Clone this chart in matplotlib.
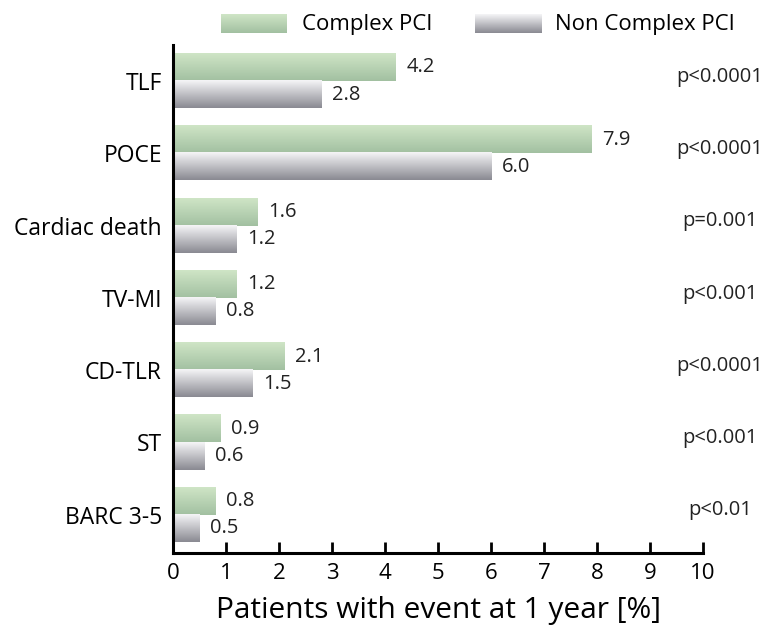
import numpy as np
import matplotlib
matplotlib.use('Agg')
import matplotlib.pyplot as plt
from matplotlib.colors import LinearSegmentedColormap

# data
categories = ['TLF', 'POCE', 'Cardiac death', 'TV-MI', 'CD-TLR', 'ST', 'BARC 3-5']
complex_pci = [4.2, 7.9, 1.6, 1.2, 2.1, 0.9, 0.8]
non_complex_pci = [2.8, 6.0, 1.2, 0.8, 1.5, 0.6, 0.5]
p_values = ['p<0.0001', 'p<0.0001', 'p=0.001', 'p<0.001', 'p<0.0001', 'p<0.001', 'p<0.01']

plt.rcParams['font.family'] = ['Open Sans', 'DejaVu Sans']

green_cmap = LinearSegmentedColormap.from_list('g', ['#cfe5c6', '#a2c0a1'])
gray_cmap = LinearSegmentedColormap.from_list('k', ['#f5f5f7', '#8a8a92'])
grad = np.linspace(0, 1, 64).reshape(-1, 1)

fig = plt.figure(figsize=(7.76, 6.32), dpi=100)
ax = fig.add_axes([0.223, 0.125, 0.683, 0.804])

y = np.arange(len(categories))
h = 0.375

bars_c = ax.barh(y - h / 2, complex_pci, height=h, color='none')
bars_n = ax.barh(y + h / 2, non_complex_pci, height=h, color='none')

# gradient fill for each bar
for bars, cmap in [(bars_c, green_cmap), (bars_n, gray_cmap)]:
    for b in bars:
        x0, y0 = b.get_x(), b.get_y()
        ax.imshow(grad, cmap=cmap, aspect='auto', origin='upper',
                  extent=(x0, x0 + b.get_width(), y0 + b.get_height(), y0),
                  zorder=2)

# value labels
for i in range(len(categories)):
    ax.text(complex_pci[i] + 0.2, y[i] - h / 2, f'{complex_pci[i]:.1f}',
            va='center', ha='left', fontsize=14.5, color='#222222')
    ax.text(non_complex_pci[i] + 0.2, y[i] + h / 2, f'{non_complex_pci[i]:.1f}',
            va='center', ha='left', fontsize=14.5, color='#222222')
    ax.text(10.32, y[i] - 0.06, p_values[i], va='center', ha='center',
            fontsize=14.5, color='#222222', clip_on=False)

ax.set_xlim(0, 10)
ax.set_ylim(6.53, -0.5)
ax.set_yticks(y)
ax.set_yticklabels(categories, fontsize=16.5)
ax.set_xticks(range(0, 11))
ax.tick_params(axis='x', direction='in', length=8, width=2, labelsize=16,
               pad=7)
ax.tick_params(axis='y', length=0, pad=8)
for s in ['top', 'right']:
    ax.spines[s].set_visible(False)
ax.spines['left'].set_linewidth(2.2)
ax.spines['bottom'].set_linewidth(2.2)
ax.set_xlabel('Patients with event at 1 year [%]', fontsize=21.5, labelpad=9)

# legend drawn by hand so the swatches keep the gradient
lg = fig.add_axes([0.285, 0.948, 0.085, 0.030])
lg.imshow(grad, cmap=green_cmap, aspect='auto')
lg.axis('off')
lk = fig.add_axes([0.612, 0.948, 0.086, 0.030])
lk.imshow(grad, cmap=gray_cmap, aspect='auto')
lk.axis('off')
fig.text(0.389, 0.962, 'Complex PCI', fontsize=16, va='center', ha='left')
fig.text(0.715, 0.962, 'Non Complex PCI', fontsize=16, va='center', ha='left')

plt.savefig('out.png', dpi=100)
